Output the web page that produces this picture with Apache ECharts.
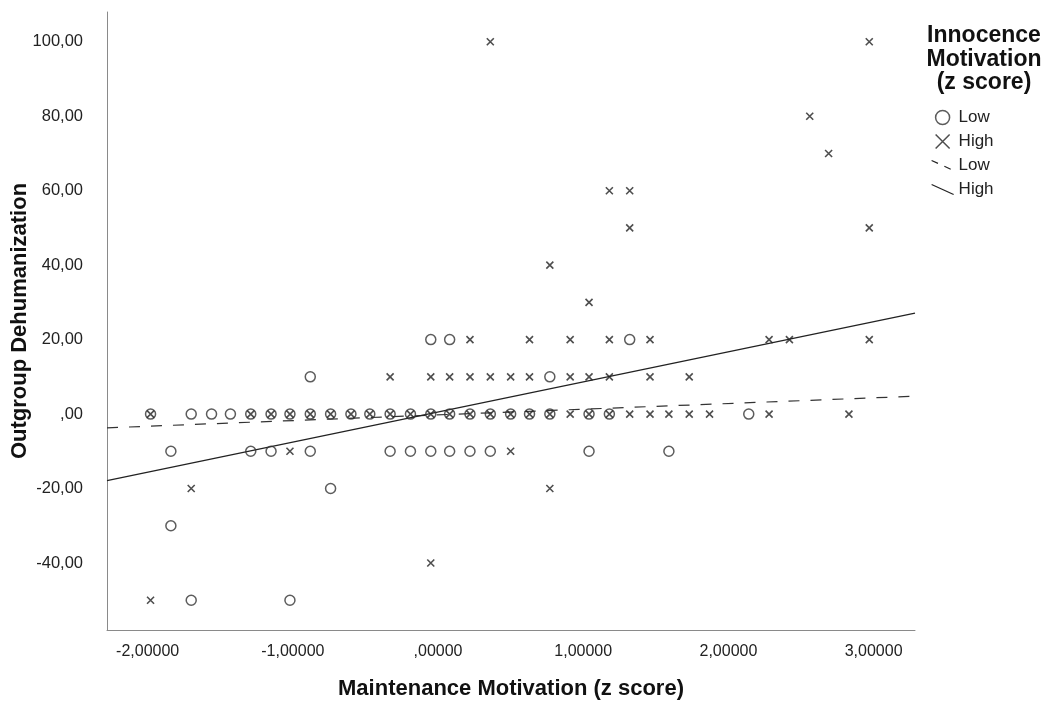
<!DOCTYPE html>
<html>
<head>
<meta charset="utf-8">
<script src="https://cdn.jsdelivr.net/npm/echarts@6/dist/echarts.min.js"></script>
<style>
html,body{margin:0;padding:0;background:#fff;}
#chart{width:1047px;height:705px;}
</style>
</head>
<body>
<div id="chart"></div>
<script>
// ---- data ----
const xTickValues = [-2, -1, 0, 1, 2, 3];
const yTickValues = [-40, -20, 0, 20, 40, 60, 80, 100];

// Innocence Motivation: Low (circles)  [maintenance z, dehumanization]
const lowPoints = [
  [-0.05,20],[0.08,20],[1.32,20],
  [-0.88,10],[0.77,10],
  [-1.98,0],[-1.70,0],[-1.56,0],[-1.43,0],[-1.29,0],[-1.15,0],[-1.02,0],[-0.88,0],
  [-0.74,0],[-0.60,0],[-0.47,0],[-0.33,0],[-0.19,0],[-0.05,0],[0.08,0],[0.22,0],
  [0.36,0],[0.50,0],[0.63,0],[0.77,0],[1.04,0],[1.18,0],[2.14,0],
  [-1.84,-10],[-1.29,-10],[-1.15,-10],[-0.88,-10],[-0.33,-10],[-0.19,-10],
  [-0.05,-10],[0.08,-10],[0.22,-10],[0.36,-10],[1.04,-10],[1.59,-10],
  [-0.74,-20],
  [-1.84,-30],
  [-1.70,-50],[-1.02,-50]
];

// Innocence Motivation: High (crosses)
const highPoints = [
  [0.36,100],[2.97,100],
  [2.56,80],
  [2.69,70],
  [1.18,60],[1.32,60],
  [1.32,50],[2.97,50],
  [0.77,40],
  [1.04,30],
  [0.22,20],[0.63,20],[0.91,20],[1.18,20],[1.46,20],[2.28,20],[2.42,20],[2.97,20],
  [-0.33,10],[-0.05,10],[0.08,10],[0.22,10],[0.36,10],[0.50,10],[0.63,10],[0.91,10],
  [1.04,10],[1.18,10],[1.46,10],[1.73,10],
  [-1.98,0],[-1.29,0],[-1.15,0],[-1.02,0],[-0.88,0],[-0.74,0],[-0.60,0],[-0.47,0],
  [-0.33,0],[-0.19,0],[-0.05,0],[0.08,0],[0.22,0],[0.36,0],[0.50,0],[0.63,0],
  [0.77,0],[0.91,0],[1.04,0],[1.18,0],[1.32,0],[1.46,0],[1.59,0],[1.73,0],
  [1.87,0],[2.28,0],[2.83,0],
  [-1.02,-10],[0.50,-10],
  [-1.70,-20],[0.77,-20],
  [-0.05,-40],
  [-1.98,-50]
];

// fit lines (end points read at the plot edges)
const lowFit = [[-2.28,-3.7],[3.285,4.8]];
const highFit = [[-2.28,-17.9],[3.285,27.1]];

const xRange = [-2.28, 3.285];
const yRange = [-58, 108];

// ---- chart ----
const FONT = '"Liberation Sans", Arial, sans-serif';
const crossPath = 'path://M0,0L10,10M0,10L10,0';

const chart = echarts.init(document.getElementById('chart'), null, {renderer:'canvas'});
chart.setOption({
  backgroundColor:'#fff',
  animation:false,
  grid:{left:107, right:132, top:12, bottom:75, containLabel:false, outerBoundsMode:'none'},
  xAxis:{
    type:'value', min:xRange[0], max:xRange[1],
    name:'Maintenance Motivation (z score)', nameLocation:'middle', nameGap:48, nameMoveOverlap:false,
    nameTextStyle:{fontFamily:FONT, fontWeight:'bold', fontSize:22, color:'#111'},
    axisLine:{show:true, onZero:false, lineStyle:{color:'#8a8a8a', width:1}},
    axisTick:{show:false},
    splitLine:{show:false},
    axisLabel:{
      customValues:xTickValues, margin:14,
      fontFamily:FONT, fontSize:16, color:'#222',
      formatter:v => v === 0 ? ',00000' : v.toFixed(5).replace('.', ',')
    }
  },
  yAxis:{
    type:'value', min:yRange[0], max:yRange[1],
    name:'Outgroup Dehumanization', nameLocation:'middle', nameGap:76, nameMoveOverlap:false,
    nameTextStyle:{fontFamily:FONT, fontWeight:'bold', fontSize:22, color:'#111'},
    axisLine:{show:true, onZero:false, lineStyle:{color:'#8a8a8a', width:1}},
    axisTick:{show:false},
    splitLine:{show:false},
    axisLabel:{
      customValues:yTickValues, margin:24,
      fontFamily:FONT, fontSize:16.5, color:'#222',
      formatter:v => v === 0 ? ',00' : v.toFixed(2).replace('.', ',')
    }
  },
  legend:{
    orient:'vertical', left:926, top:104, itemGap:7, itemWidth:22, itemHeight:14,
    textStyle:{fontFamily:FONT, fontSize:17, color:'#222'},
    formatter:n => n.replace(' fit',''),
    data:[
      {name:'Low', icon:'circle', itemStyle:{color:'rgba(0,0,0,0)', borderColor:'#333', borderWidth:1.5}},
      {name:'High', icon:crossPath, itemStyle:{color:'rgba(0,0,0,0)', borderColor:'#222', borderWidth:1.5}},
      {name:'Low fit', icon:'path://M0,0L22,10', itemStyle:{color:'rgba(0,0,0,0)', borderColor:'#222', borderWidth:1.2, borderType:[7,7]}},
      {name:'High fit', icon:'path://M0,0L22,10', itemStyle:{color:'rgba(0,0,0,0)', borderColor:'#222', borderWidth:1.2}}
    ]
  },
  graphic:[{
    type:'text', x:984, y:24,
    style:{text:'Innocence\nMotivation\n(z score)', font:'bold 23px ' + FONT,
      textAlign:'center', lineHeight:23.5, fill:'#111'}
  }],
  series:[
    {
      name:'Low fit', type:'line', data:lowFit, showSymbol:false, symbol:'none',
      lineStyle:{color:'#333', width:1.2, type:[11,11]}, z:1, silent:true
    },
    {
      name:'High fit', type:'line', data:highFit, showSymbol:false, symbol:'none',
      lineStyle:{color:'#222', width:1.2, type:'solid'}, z:1, silent:true
    },
    {
      name:'Low', type:'scatter', data:lowPoints, symbol:'circle', symbolSize:10,
      itemStyle:{color:'rgba(0,0,0,0)', borderColor:'#333', borderWidth:1.5}, z:2
    },
    {
      name:'High', type:'scatter', data:highPoints, symbol:crossPath, symbolSize:7,
      itemStyle:{color:'rgba(0,0,0,0)', borderColor:'#222', borderWidth:1.6}, z:3
    }
  ]
});
</script>
</body>
</html>
